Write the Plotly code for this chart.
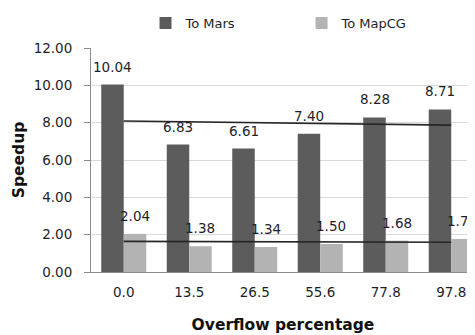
import numpy as np
import plotly.graph_objects as go

categories = ["0.0", "13.5", "26.5", "55.6", "77.8", "97.8"]
to_mars = [10.04, 6.83, 6.61, 7.40, 8.28, 8.71]
to_mapcg = [2.04, 1.38, 1.34, 1.50, 1.68, 1.77]
y_ticks = [0, 2, 4, 6, 8, 10, 12]
y_tick_text = [f"{v:.2f}" for v in y_ticks]

MARS_C = "#5c5c5c"
MAPCG_C = "#b3b3b3"
TXT = "#1e1e2a"
FONT = "DejaVu Sans"

fig = go.Figure()
fig.add_trace(go.Bar(name="To Mars", x=categories, y=to_mars, marker_color=MARS_C,
                     marker_line_width=0))
fig.add_trace(go.Bar(name="To MapCG", x=categories, y=to_mapcg, marker_color=MAPCG_C,
                     marker_line_width=0))

idx = np.arange(1, len(categories) + 1)
for series in (to_mars, to_mapcg):
    k, b = np.polyfit(idx, series, 1)
    fig.add_trace(go.Scatter(x=categories, y=k * idx + b, mode="lines",
                             line=dict(color="#262626", width=1.6),
                             showlegend=False, hoverinfo="skip"))

annotations = []
for series, shift in ((to_mars, -11), (to_mapcg, 11)):
    for i, v in enumerate(series):
        annotations.append(dict(x=i, y=v, xref="x", yref="y", text=f"{v:.2f}",
                                showarrow=False, xshift=shift, yshift=18,
                                font=dict(family=FONT, size=13.5, color=TXT)))

# page body adds an 8px offset, so the figure is sized/margined to compensate
fig.update_layout(
    width=467, height=327,
    margin=dict(l=83, r=0, t=33, b=63),
    paper_bgcolor="white", plot_bgcolor="white",
    barmode="group", bargap=0.313, bargroupgap=0,
    font=dict(family=FONT, size=13, color=TXT),
    legend=dict(orientation="h", x=0.142, xanchor="left", y=1.113, yanchor="middle",
                font=dict(family=FONT, size=13, color=TXT),
                entrywidth=111, entrywidthmode="pixels",
                itemwidth=30, traceorder="normal"),
    annotations=annotations,
    xaxis=dict(type="category", range=[-0.5, 5.363], showline=True, linecolor="#8c8c8c",
               linewidth=1, ticks="", ticklabelstandoff=8,
               tickfont=dict(family=FONT, size=13.5, color=TXT),
               title=dict(text="<b>Overflow percentage</b>", standoff=19,
                          font=dict(family=FONT, size=15.5, color="#111")),
               fixedrange=True),
    yaxis=dict(range=[0, 12], tickvals=y_ticks, ticktext=y_tick_text, showline=True,
               linecolor="#8c8c8c", linewidth=1, ticks="outside", ticklen=6,
               tickcolor="#8c8c8c", gridcolor="#d9d9d9", gridwidth=1,
               ticklabelstandoff=9, zeroline=False,
               tickfont=dict(family=FONT, size=13.5, color=TXT),
               title=dict(text="<b>Speedup</b>", standoff=5,
                          font=dict(family=FONT, size=15.5, color="#111"))),
)

fig.write_html("out.html")
